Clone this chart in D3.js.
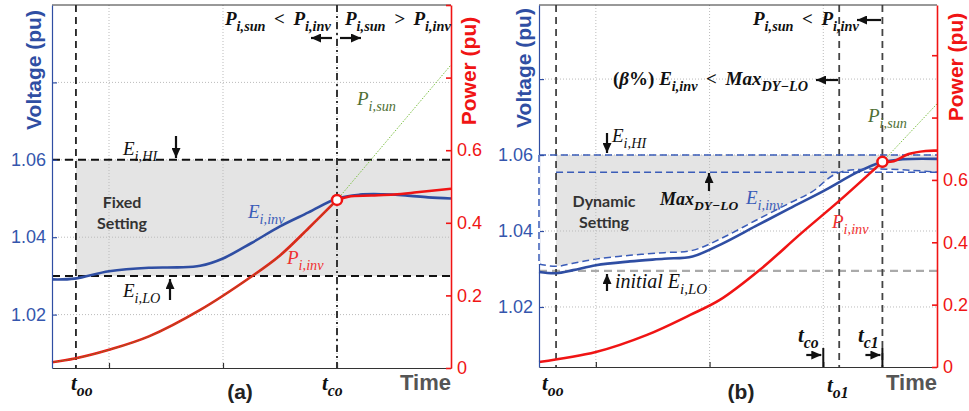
<!DOCTYPE html>
<html>
<head>
<meta charset="utf-8">
<script src="https://cdn.jsdelivr.net/npm/d3@7"></script>
<style>
  body { margin: 0; background: #fff; }
  svg { display: block; }
  text { font-family: "Liberation Sans", Arial, sans-serif; }
  .math { font-family: "Liberation Serif", "Times New Roman", serif; font-style: italic; }
  .note { font-family: Lato, "Open Sans", sans-serif; font-weight: bold; fill: #333; }
</style>
</head>
<body>
<svg id="chart" width="969" height="411"></svg>
<script>
// ---- shared ticks ----
const timeTicks = [0.5, 1.5, 2.5];
const voltTicks = [1.02, 1.04, 1.06, 1.08];
const voltLabels = ["1.02", "1.04", "1.06", ""];
const powerTicks = [0, 0.2, 0.4, 0.6, 0.8, 1.0];
const powerLabels = ["0", "0.2", "0.4", "0.6", "", ""];

// ---- (a) fixed setting, [time, value] ----
const voltA = [[0, 1.0291], [0.2, 1.0293], [0.5, 1.0312], [0.85, 1.0321], [1.1, 1.0322], [1.3, 1.0326],
  [1.5, 1.0345], [1.75, 1.0385], [2.0, 1.0428], [2.25, 1.0464], [2.5, 1.0500], [2.7, 1.0510],
  [2.9, 1.0511], [3.1, 1.0508], [3.3, 1.0503], [3.5, 1.0500]];
const powerA = [[0, 0.016], [0.2, 0.026], [0.5, 0.050], [0.85, 0.087], [1.3, 0.160], [1.75, 0.252],
  [2.0, 0.310], [2.25, 0.385], [2.5, 0.463], [2.6, 0.472], [2.8, 0.475], [3.0, 0.478], [3.2, 0.484], [3.5, 0.494]];
const sunTailA = [[2.5, 0.463], [3.5, 0.835]];
const eHiA = 1.06, eLoA = 1.03;
const tOoA = 0.21, tCoA = 2.5;

// ---- (b) dynamic setting ----
const voltB = [[0, 1.0292], [0.15, 1.0289], [0.3, 1.0297], [0.5, 1.0310], [0.8, 1.0320], [1.1, 1.0327],
  [1.35, 1.0333], [1.6, 1.0365], [1.9, 1.0412], [2.2, 1.0459], [2.5, 1.0505], [2.8, 1.0555],
  [3.0, 1.0580], [3.2, 1.0589], [3.5, 1.0590]];
const dynLoB = [[0, 1.0313], [0.15, 1.0307], [0.3, 1.0315], [0.5, 1.0326], [0.8, 1.0336], [1.1, 1.0343],
  [1.35, 1.0349], [1.6, 1.0380], [1.9, 1.0427], [2.2, 1.0473], [2.4, 1.0503], [2.65, 1.0555], [3.5, 1.0555]];
const powerB = [[0, 0.016], [0.5, 0.048], [0.95, 0.103], [1.33, 0.167], [1.59, 0.215], [1.94, 0.311],
  [2.3, 0.427], [2.65, 0.536], [3.02, 0.658], [3.12, 0.660], [3.25, 0.683], [3.4, 0.693], [3.5, 0.694]];
const sunTailB = [[3.02, 0.658], [3.5, 0.844]];
const eHiB = 1.06, eLoInitB = 1.0295, maxDyLoB = 1.0555;
const tOoB = 0.15, tCoB = 2.5, tO1B = 2.64, tC1B = 3.02;

const BLUE = "#2f4ea3", RED = "#f01414", GREEN = "#7cc043", TBLUE = "#3556ad", DBLUE = "#3a5cb8";

const svg = d3.select("#chart");
svg.append("defs").append("marker")
  .attr("id", "ah").attr("viewBox", "0 0 10 9").attr("refX", 10).attr("refY", 4.5)
  .attr("markerWidth", 10).attr("markerHeight", 9).attr("markerUnits", "userSpaceOnUse")
  .attr("orient", "auto")
  .append("path").attr("d", "M0,0L10,4.5L0,9Z").attr("fill", "#111");

const line = (x, y) => d3.line().x(d => x(d[0])).y(d => y(d[1])).curve(d3.curveCatmullRom.alpha(0.5));

function arrow(g, x1, y1, x2, y2) {
  g.append("line").attr("x1", x1).attr("y1", y1).attr("x2", x2).attr("y2", y2)
    .attr("stroke", "#111").attr("stroke-width", 2.2).attr("marker-end", "url(#ah)");
}

// parts: "text" | {t, sub, up}
function mathText(g, x, y, parts, size, color, bold) {
  const t = g.append("text").attr("class", "math").attr("x", x).attr("y", y)
    .attr("font-size", size).attr("fill", color || "#111")
    .attr("font-weight", bold ? "bold" : "normal");
  let shift = 0;
  parts.forEach(p => {
    const o = typeof p === "string" ? {t: p} : p;
    const s = o.sub ? size * 0.3 : 0;
    t.append("tspan").attr("dy", s - shift)
      .attr("font-size", o.sub ? size * 0.75 : size)
      .attr("font-style", o.up ? "normal" : null)
      .text(o.t);
    shift = s;
  });
  return t;
}

function frame(x, yV) {
  const g = svg.append("g");
  const [xl, xr] = x.range(), [yb, yt] = yV.range();
  g.append("g").selectAll("line").data(voltTicks).join("line")
    .attr("x1", xl).attr("x2", xr).attr("y1", d => yV(d)).attr("y2", d => yV(d))
    .attr("stroke", "#bbb").attr("stroke-width", 1).attr("stroke-dasharray", "1,2");
  g.append("g").selectAll("line").data(timeTicks).join("line")
    .attr("x1", d => x(d)).attr("x2", d => x(d)).attr("y1", yt).attr("y2", yb)
    .attr("stroke", "#bbb").attr("stroke-width", 1).attr("stroke-dasharray", "1,2");
  return g;
}

function axes(g, x, yV, yP, opt) {
  const [xl, xr] = x.range(), [yb, yt] = yV.range();
  g.append("line").attr("x1", xl).attr("x2", xr).attr("y1", yt).attr("y2", yt)
    .attr("stroke", "#333").attr("stroke-width", 1);
  const bx = g.append("g").attr("transform", `translate(0,${yb})`)
    .call(d3.axisBottom(x).tickValues(timeTicks).tickFormat("").tickSizeInner(-5).tickSizeOuter(0));
  bx.selectAll("path,line").attr("stroke", "#333").attr("stroke-width", 1.2);

  const ly = g.append("g").attr("transform", `translate(${xl},0)`)
    .call(d3.axisLeft(yV).tickValues(voltTicks).tickFormat((d, i) => voltLabels[i])
      .tickSizeInner(-5).tickSizeOuter(0).tickPadding(6));
  ly.selectAll("path,line").attr("stroke", BLUE).attr("stroke-width", 1.2);
  ly.selectAll("text").attr("font-size", 18).attr("fill", TBLUE)
    .attr("font-family", "'Liberation Sans', Arial, sans-serif");

  const ry = g.append("g").attr("transform", `translate(${xr},0)`)
    .call(d3.axisRight(yP).tickValues(powerTicks).tickFormat((d, i) => powerLabels[i])
      .tickSizeInner(-5).tickSizeOuter(0).tickPadding(6));
  ry.selectAll("path,line").attr("stroke", RED).attr("stroke-width", 1.6);
  ry.selectAll("text").attr("font-size", 18).attr("fill", RED)
    .attr("font-family", "'Liberation Sans', Arial, sans-serif");

  g.append("text").attr("transform", `translate(${opt.vx},${opt.vy}) rotate(-90)`)
    .attr("text-anchor", "middle").attr("dominant-baseline", "central")
    .attr("font-size", 21).attr("font-weight", "bold").attr("fill", BLUE).text("Voltage (pu)");
  g.append("text").attr("transform", `translate(${opt.px},${opt.py}) rotate(-90)`)
    .attr("text-anchor", "middle").attr("dominant-baseline", "central")
    .attr("font-size", 21).attr("font-weight", "bold").attr("fill", RED).text("Power (pu)");
  g.append("text").attr("x", xr).attr("y", 390).attr("text-anchor", "end")
    .attr("font-size", 22).attr("font-weight", "bold").attr("fill", "#555").text("Time");
}

// draws a series as two pieces that meet at time tc, so the corner stays sharp
function splitPath(g, data, tc, x, y, color, width) {
  [data.filter(d => d[0] <= tc), data.filter(d => d[0] >= tc)].forEach(part =>
    g.append("path").datum(part).attr("d", line(x, y)).attr("fill", "none")
      .attr("stroke", color).attr("stroke-width", width).attr("stroke-linejoin", "round"));
}

// ================= panel (a) =================
{
  const x = d3.scaleLinear([0, 3.5], [52, 451]);
  const yV = d3.scaleLinear([1.0062, 1.1], [368, 5]);
  const yP = d3.scaleLinear([0, 1.0], [368, 5]);
  const [xl, xr] = x.range(), [yb, yt] = yV.range();

  svg.append("rect").attr("x", x(tOoA)).attr("y", yV(eHiA))
    .attr("width", xr - 1 - x(tOoA)).attr("height", yV(eLoA) - yV(eHiA)).attr("fill", "#e4e4e4");
  const g = frame(x, yV);

  g.append("line").attr("x1", x(tOoA)).attr("x2", x(tOoA)).attr("y1", yt).attr("y2", yb)
    .attr("stroke", "#222").attr("stroke-width", 1.8).attr("stroke-dasharray", "7,5");
  g.append("line").attr("x1", x(tCoA)).attr("x2", x(tCoA)).attr("y1", yt).attr("y2", yb)
    .attr("stroke", "#222").attr("stroke-width", 1.8).attr("stroke-dasharray", "7,4,2,4");
  [eHiA, eLoA].forEach(v => g.append("line").attr("x1", xl).attr("x2", xr).attr("y1", yV(v)).attr("y2", yV(v))
    .attr("stroke", "#111").attr("stroke-width", 2).attr("stroke-dasharray", "8,5"));

  g.append("path").datum(voltA).attr("d", line(x, yV)).attr("fill", "none")
    .attr("stroke", BLUE).attr("stroke-width", 2.6);
  splitPath(g, powerA, tCoA, x, yP, RED, 2.6);
  const sunA = powerA.filter(d => d[0] <= tCoA);
  g.append("path").datum(sunA).attr("d", line(x, yP)).attr("fill", "none")
    .attr("stroke", "#6f8a2a").attr("stroke-width", 1).attr("stroke-dasharray", "1.5,1");
  g.append("path").datum(sunTailA).attr("d", line(x, yP)).attr("fill", "none")
    .attr("stroke", GREEN).attr("stroke-width", 1).attr("stroke-dasharray", "1.5,1.5");
  g.append("circle").attr("cx", x(tCoA)).attr("cy", yP(powerA.find(d => d[0] === tCoA)[1])).attr("r", 5)
    .attr("fill", "#fff").attr("stroke", RED).attr("stroke-width", 2.5);

  axes(g, x, yV, yP, {vx: 33, vy: 70, px: 468, py: 71});

  mathText(g, 123, 155, ["E", {t: "i,HI", sub: 1}], 19);
  arrow(g, 176, 136, 176, 158);
  mathText(g, 123, 297, ["E", {t: "i,LO", sub: 1}], 19);
  arrow(g, 170, 300, 170, 279);
  g.append("text").attr("class", "note").attr("x", 122).attr("y", 208).attr("text-anchor", "middle")
    .attr("font-size", 16).text("Fixed");
  g.append("text").attr("class", "note").attr("x", 122).attr("y", 229).attr("text-anchor", "middle")
    .attr("font-size", 16).text("Setting");
  mathText(g, 248, 218, ["E", {t: "i,inv", sub: 1}], 19, DBLUE);
  mathText(g, 287, 264, ["P", {t: "i,inv", sub: 1}], 19, "#f03030");
  mathText(g, 357, 105, ["P", {t: "i,sun", sub: 1}], 19, "#4f6f35");
  mathText(g, 225, 25, ["P", {t: "i,sun", sub: 1}, " \u2009<\u2009 P", {t: "i,inv", sub: 1}], 19, "#111", true);
  mathText(g, 345, 25, ["P", {t: "i,sun", sub: 1}, " \u2009>\u2009 P", {t: "i,inv", sub: 1}], 19, "#111", true);
  arrow(g, 332, 38, 311, 38);
  arrow(g, 340, 38, 361, 38);
  mathText(g, 71, 390, ["t", {t: "oo", sub: 1}], 21, "#111", true);
  mathText(g, 322, 390, ["t", {t: "co", sub: 1}], 21, "#111", true);
  g.append("text").attr("x", 240).attr("y", 399).attr("text-anchor", "middle")
    .attr("font-family", "Lato, sans-serif").attr("font-weight", "bold").attr("font-size", 21)
    .attr("fill", "#222").text("(a)");
}

// ================= panel (b) =================
{
  const x = d3.scaleLinear([0, 3.5], [539, 937]);
  const yV = d3.scaleLinear([1.0042, 1.0995], [367, 5]);
  const yP = d3.scaleLinear([0, 1.161], [367, 5]);
  const [xl, xr] = x.range(), [yb, yt] = yV.range();

  // gray band between the dynamic lower limit and E_HI, from t_oo
  const band = dynLoB.filter(d => d[0] >= tOoB);
  svg.append("path").datum(band)
    .attr("d", d3.area().x(d => x(d[0])).y0(d => yV(d[1])).y1(yV(eHiB)).curve(d3.curveCatmullRom.alpha(0.5)))
    .attr("fill", "#e4e4e4");
  const g = frame(x, yV);

  g.append("line").attr("x1", xl).attr("x2", xr).attr("y1", yV(eLoInitB)).attr("y2", yV(eLoInitB))
    .attr("stroke", "#aaa").attr("stroke-width", 2.2).attr("stroke-dasharray", "8,5");
  [tOoB, tO1B, tC1B].forEach(t => g.append("line").attr("x1", x(t)).attr("x2", x(t)).attr("y1", yt).attr("y2", yb)
    .attr("stroke", "#444").attr("stroke-width", 1.8).attr("stroke-dasharray", "7,5"));
  g.append("line").attr("x1", xl).attr("x2", xr).attr("y1", yV(eHiB)).attr("y2", yV(eHiB))
    .attr("stroke", DBLUE).attr("stroke-width", 1.5).attr("stroke-dasharray", "7,4");
  g.append("line").attr("x1", x(tOoB)).attr("x2", xr).attr("y1", yV(maxDyLoB)).attr("y2", yV(maxDyLoB))
    .attr("stroke", DBLUE).attr("stroke-width", 1.5).attr("stroke-dasharray", "7,4");

  g.append("path").datum(voltB).attr("d", line(x, yV)).attr("fill", "none")
    .attr("stroke", BLUE).attr("stroke-width", 2.6);
  g.append("path").datum(dynLoB).attr("d", line(x, yV)).attr("fill", "none")
    .attr("stroke", DBLUE).attr("stroke-width", 1.5).attr("stroke-dasharray", "7,4");
  splitPath(g, powerB, tC1B, x, yP, RED, 2.6);
  g.append("path").datum(sunTailB).attr("d", line(x, yP)).attr("fill", "none")
    .attr("stroke", GREEN).attr("stroke-width", 1).attr("stroke-dasharray", "1.5,1.5");
  g.append("circle").attr("cx", x(tC1B)).attr("cy", yP(powerB.find(d => d[0] === tC1B)[1])).attr("r", 5)
    .attr("fill", "#fff").attr("stroke", RED).attr("stroke-width", 2.5);

  axes(g, x, yV, yP, {vx: 523, vy: 68, px: 955, py: 67});

  // dashed boundary over the left axis
  g.append("line").attr("x1", xl).attr("x2", xl).attr("y1", yV(eHiB)).attr("y2", yV(dynLoB[0][1]))
    .attr("stroke", "#fff").attr("stroke-width", 2);
  g.append("line").attr("x1", xl).attr("x2", xl).attr("y1", yV(eHiB)).attr("y2", yV(dynLoB[0][1]))
    .attr("stroke", DBLUE).attr("stroke-width", 1.5).attr("stroke-dasharray", "7,4");

  // short event ticks at the bottom
  [tCoB, tC1B].forEach(t => {
    g.append("line").attr("x1", x(t)).attr("x2", x(t)).attr("y1", 348).attr("y2", yb)
      .attr("stroke", "#111").attr("stroke-width", 2);
    arrow(g, x(t) - 17, 355, x(t) - 2, 355);
  });

  mathText(g, 612, 142, ["E", {t: "i,HI", sub: 1}], 19);
  arrow(g, 607, 133, 607, 153);
  mathText(g, 660, 205, ["Max", {t: "DY\u2212LO", sub: 1}], 18, "#111", true);
  arrow(g, 709, 191, 709, 173);
  g.append("text").attr("class", "note").attr("x", 604).attr("y", 207).attr("text-anchor", "middle")
    .attr("font-size", 16).text("Dynamic");
  g.append("text").attr("class", "note").attr("x", 604).attr("y", 228).attr("text-anchor", "middle")
    .attr("font-size", 16).text("Setting");
  mathText(g, 746, 204, ["E", {t: "i,inv", sub: 1}], 19, DBLUE);
  mathText(g, 832, 228, ["P", {t: "i,inv", sub: 1}], 19, "#f03030");
  mathText(g, 868, 122, ["P", {t: "i,sun", sub: 1}], 19, "#4f6f35");
  arrow(g, 607, 291, 607, 274);
  mathText(g, 615, 288, ["initial E", {t: "i,LO", sub: 1}], 20);
  mathText(g, 613, 85, [{t: "(", up: 1}, "\u03b2", {t: "%) ", up: 1}, "E", {t: "i,inv", sub: 1},
    " \u2009<\u2009 Max", {t: "DY\u2212LO", sub: 1}], 19, "#111", true);
  arrow(g, 838, 80, 816, 80);
  mathText(g, 753, 25, ["P", {t: "i,sun", sub: 1}, " \u2009<\u2009 P", {t: "i,inv", sub: 1}], 19, "#111", true);
  arrow(g, 881, 20, 857, 20);
  mathText(g, 542, 390, ["t", {t: "oo", sub: 1}], 21, "#111", true);
  mathText(g, 798, 342, ["t", {t: "co", sub: 1}], 21, "#111", true);
  mathText(g, 858, 342, ["t", {t: "c1", sub: 1}], 21, "#111", true);
  mathText(g, 827, 392, ["t", {t: "o1", sub: 1}], 21, "#111", true);
  g.append("text").attr("x", 741).attr("y", 399).attr("text-anchor", "middle")
    .attr("font-family", "Lato, sans-serif").attr("font-weight", "bold").attr("font-size", 21)
    .attr("fill", "#222").text("(b)");
}
</script>
</body>
</html>
